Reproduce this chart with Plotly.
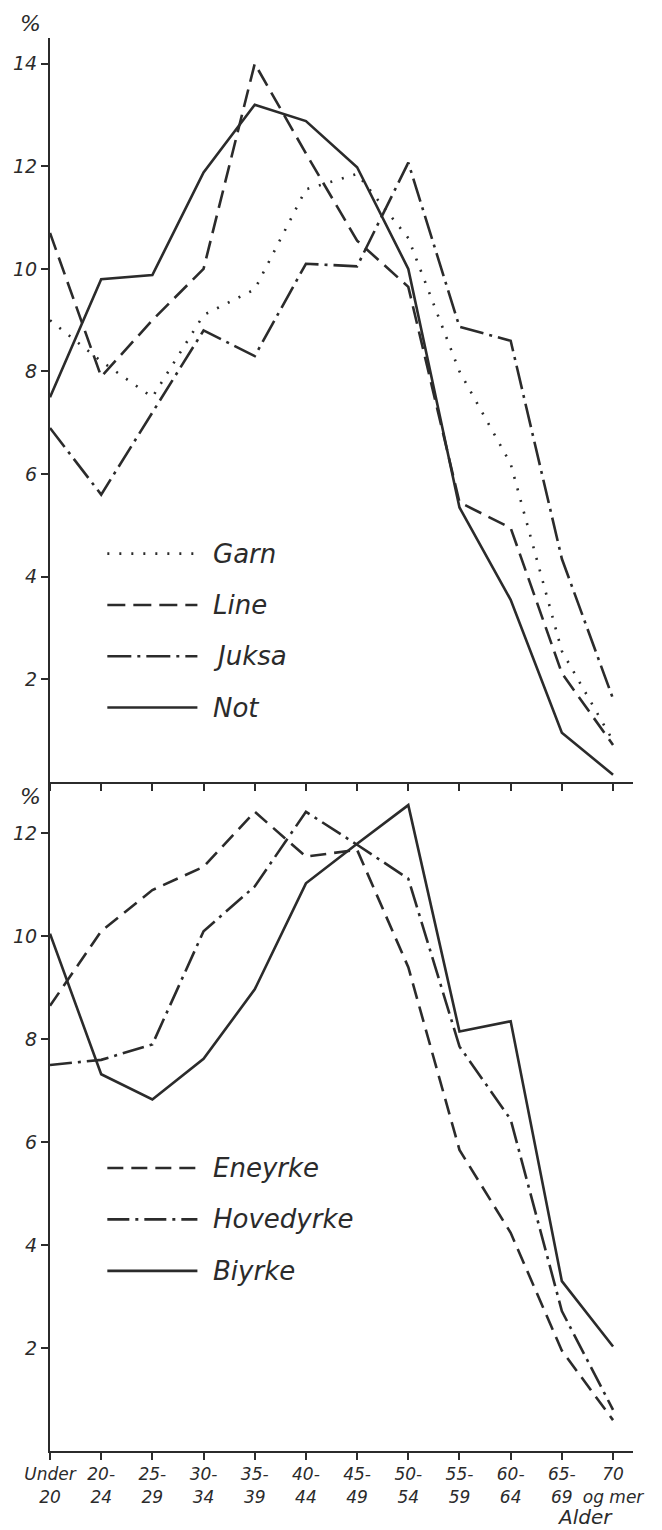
import plotly.graph_objects as go

# ---- data ----
categories = ["Under<br>20", "20-<br>24", "25-<br>29", "30-<br>34", "35-<br>39", "40-<br>44",
              "45-<br>49", "50-<br>54", "55-<br>59", "60-<br>64", "65-<br>69", "70<br>og mer"]

garn = [9.0, 8.2, 7.5, 9.1, 9.6, 11.55, 11.85, 10.6, 8.0, 6.2, 2.55, 0.8]
line = [10.7, 7.9, 9.0, 10.0, 14.0, 12.25, 10.55, 9.65, 5.45, 4.95, 2.12, 0.72]
juksa = [6.9, 5.6, 7.2, 8.8, 8.3, 10.1, 10.05, 12.07, 8.87, 8.6, 4.35, 1.62]
not_ = [7.5, 9.8, 9.88, 11.88, 13.2, 12.88, 11.98, 10.0, 5.35, 3.55, 0.96, 0.14]

eneyrke = [8.65, 10.1, 10.9, 11.35, 12.42, 11.55, 11.68, 9.4, 5.85, 4.24, 1.95, 0.6]
hovedyrke = [7.5, 7.6, 7.9, 10.1, 10.97, 12.42, 11.78, 11.12, 7.86, 6.44, 2.72, 0.8]
biyrke = [10.05, 7.32, 6.83, 7.62, 8.97, 11.03, 11.8, 12.55, 8.15, 8.35, 3.3, 2.03]

top_names = ["Garn", "Line", "Juksa", "Not"]
bottom_names = ["Eneyrke", "Hovedyrke", "Biyrke"]
top_y_ticks = [2, 4, 6, 8, 10, 12, 14]
bottom_y_ticks = [2, 4, 6, 8, 10, 12]

# ---- style ----
INK = "#2b2b2b"
FONT = "DejaVu Sans"
dash_styles = {
    "Garn": "2px,10px",
    "Line": "18px,8px",
    "Juksa": "24px,6px,3px,6px",
    "Not": "solid",
    "Eneyrke": "16px,8px",
    "Hovedyrke": "22px,6px,3px,6px",
    "Biyrke": "solid",
}

xs = list(range(len(categories)))
fig = go.Figure()

for name, vals in zip(top_names, [garn, line, juksa, not_]):
    fig.add_trace(go.Scatter(x=xs, y=vals, mode="lines", name=name,
                             line=dict(color=INK, width=2.6, dash=dash_styles[name]),
                             xaxis="x", yaxis="y", showlegend=False))
for name, vals in zip(bottom_names, [eneyrke, hovedyrke, biyrke]):
    fig.add_trace(go.Scatter(x=xs, y=vals, mode="lines", name=name,
                             line=dict(color=INK, width=2.6, dash=dash_styles[name]),
                             xaxis="x2", yaxis="y2", showlegend=False))

# legend keys drawn as shapes + annotations
def add_legend(names, xref, yref, y_start):
    for i, name in enumerate(names):
        yy = y_start - i
        fig.add_shape(type="line", xref=xref, yref=yref, x0=1.12, x1=2.88, y0=yy, y1=yy,
                      line=dict(color=INK, width=2.6, dash=dash_styles[name]))
        fig.add_annotation(xref=xref, yref=yref, x=3.15, y=yy, text=name, showarrow=False,
                           xanchor="left", yanchor="middle",
                           font=dict(family=FONT, size=26, color=INK, style="italic"))

add_legend(top_names, "x", "y", 4.45)
add_legend(bottom_names, "x2", "y2", 5.5)

xr = [0, 11.39]
axis_common = dict(showgrid=False, zeroline=False, showline=True, linecolor=INK, linewidth=2,
                   ticks="outside", ticklen=7, tickwidth=1.5, tickcolor=INK, automargin=False)

# page body has an 8px default margin, so the figure is 8px smaller and shifted
fig.update_layout(
    template="none",
    width=654, height=1522,
    margin=dict(l=42, r=29, t=30, b=79),
    plot_bgcolor="white", paper_bgcolor="white",
    font=dict(family=FONT, color=INK, style="italic"),
    xaxis=dict(domain=[0, 1], range=xr, anchor="y", tickvals=xs, showticklabels=False, **axis_common),
    yaxis=dict(domain=[0.4735, 1], range=[0, 14.5], anchor="x", tickvals=top_y_ticks,
               tickfont=dict(size=19, family=FONT, style="italic"), **axis_common),
    xaxis2=dict(domain=[0, 1], range=xr, anchor="y2", tickvals=xs, ticktext=categories,
                tickfont=dict(size=17, family=FONT, style="italic"), **axis_common),
    yaxis2=dict(domain=[0, 0.4735], range=[0, 13.0], anchor="x2", tickvals=bottom_y_ticks,
                tickfont=dict(size=19, family=FONT, style="italic"), **axis_common),
)

for yy in [23, 796]:
    fig.add_annotation(xref="paper", yref="paper", x=-20 / 583, y=1 - (yy - 38) / 1413,
                       text="%", showarrow=False, xanchor="center", yanchor="middle",
                       font=dict(family=FONT, size=22, color=INK, style="italic"))

fig.add_annotation(xref="paper", yref="paper", x=(585 - 50) / 583, y=-(1517 - 1451) / 1413,
                   text="Alder", showarrow=False, xanchor="center", yanchor="middle",
                   font=dict(family=FONT, size=20, color=INK, style="italic"))

fig.write_html("out.html")
